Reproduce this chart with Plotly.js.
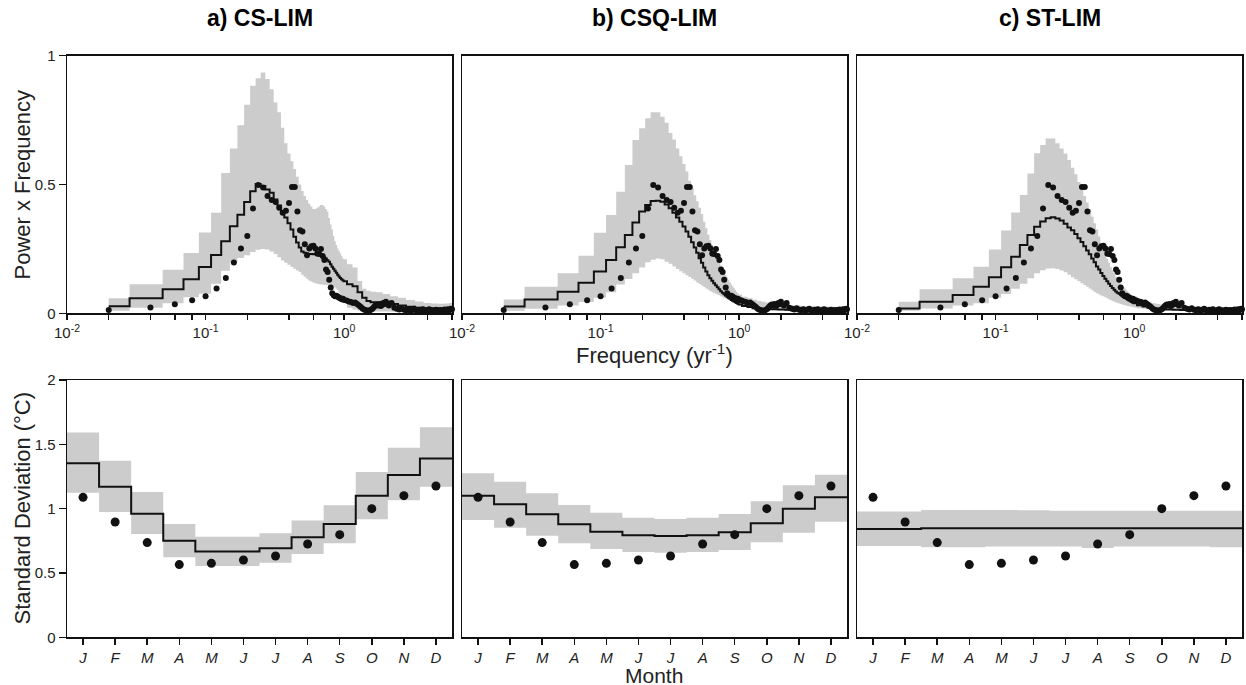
<!DOCTYPE html>
<html>
<head>
<meta charset="utf-8">
<script src="https://cdn.plot.ly/plotly-3.0.1.min.js"></script>
<style>html,body{margin:0;padding:0;background:#fff;}#chart{width:1246px;height:685px;}</style>
</head>
<body>
<div id="chart"></div>
<script>
// ---------- DATA ----------
const PANEL_TITLES = ['a) CS-LIM', 'b) CSQ-LIM', 'c) ST-LIM'];

// model frequency grid (yr^-1)
const FREQ = [0.02,0.04,0.06,0.08,0.10,0.12,0.14,0.16,0.18,0.20,
  0.22,0.24,0.26,0.28,0.30,0.32,0.34,0.36,0.38,0.40,
  0.42,0.44,0.46,0.48,0.50,0.52,0.54,0.56,0.58,0.60,
  0.62,0.64,0.66,0.68,0.70,0.72,0.74,0.76,0.78,0.80,
  0.82,0.84,0.86,0.88,0.90,0.92,0.94,0.96,0.98,1.00,
  1.1,1.2,1.3,1.4,1.5,1.6,1.8,2.0,2.3,2.6,3.0,3.5,4.0,4.5,5.0,5.5,6.0];

const A_MEAN = [0.027,0.058,0.093,0.132,0.180,0.226,0.280,0.338,0.383,0.432,
  0.474,0.502,0.494,0.481,0.468,0.442,0.418,0.394,0.372,0.350,
  0.325,0.297,0.275,0.255,0.240,0.235,0.232,0.230,0.230,0.229,
  0.230,0.231,0.230,0.226,0.222,0.218,0.213,0.206,0.200,0.190,
  0.181,0.173,0.165,0.157,0.150,0.143,0.137,0.132,0.128,0.124,
  0.113,0.105,0.082,0.060,0.048,0.043,0.042,0.045,0.036,0.030,0.025,0.022,0.020,0.019,0.018,0.018,0.018];
const A_UP = [0.058,0.113,0.169,0.234,0.314,0.390,0.545,0.640,0.730,0.810,
  0.883,0.912,0.935,0.910,0.870,0.818,0.780,0.720,0.660,0.620,
  0.590,0.560,0.530,0.500,0.475,0.455,0.440,0.425,0.415,0.405,
  0.405,0.410,0.415,0.420,0.420,0.415,0.405,0.395,0.370,0.345,
  0.325,0.300,0.280,0.265,0.252,0.242,0.232,0.222,0.214,0.210,
  0.190,0.178,0.125,0.095,0.088,0.084,0.082,0.075,0.066,0.060,0.052,0.046,0.040,0.038,0.037,0.038,0.040];
const A_LO = [0.010,0.022,0.039,0.062,0.076,0.115,0.165,0.198,0.215,0.225,
  0.238,0.247,0.250,0.248,0.240,0.230,0.218,0.205,0.196,0.188,
  0.180,0.173,0.166,0.160,0.150,0.142,0.134,0.127,0.123,0.120,
  0.117,0.115,0.113,0.112,0.111,0.111,0.111,0.110,0.110,0.110,
  0.108,0.104,0.100,0.095,0.090,0.080,0.068,0.058,0.048,0.042,
  0.022,0.015,0.011,0.009,0.008,0.007,0.007,0.007,0.006,0.006,0.006,0.006,0.006,0.006,0.006,0.006,0.006];

const B_MEAN = [0.026,0.054,0.084,0.119,0.162,0.207,0.256,0.304,0.352,0.395,
  0.420,0.436,0.437,0.433,0.422,0.408,0.390,0.372,0.355,0.337,
  0.318,0.297,0.276,0.255,0.235,0.214,0.196,0.178,0.162,0.148,
  0.136,0.126,0.117,0.109,0.101,0.093,0.086,0.080,0.074,0.069,
  0.064,0.060,0.056,0.052,0.049,0.046,0.043,0.040,0.037,0.034,
  0.028,0.024,0.020,0.018,0.017,0.016,0.016,0.015,0.014,0.014,0.013,0.013,0.012,0.012,0.012,0.012,0.012];
const B_UP = [0.054,0.103,0.155,0.223,0.313,0.382,0.472,0.576,0.673,0.718,
  0.757,0.780,0.780,0.763,0.740,0.700,0.675,0.640,0.610,0.580,
  0.550,0.515,0.485,0.458,0.435,0.410,0.385,0.355,0.330,0.305,
  0.285,0.265,0.248,0.232,0.215,0.200,0.185,0.172,0.160,0.150,
  0.140,0.130,0.120,0.112,0.104,0.097,0.090,0.084,0.078,0.073,
  0.064,0.058,0.053,0.048,0.045,0.042,0.038,0.035,0.032,0.030,0.028,0.027,0.026,0.025,0.025,0.024,0.024];
const B_LO = [0.010,0.018,0.030,0.044,0.060,0.082,0.112,0.133,0.155,0.178,
  0.198,0.208,0.213,0.210,0.200,0.192,0.182,0.172,0.163,0.155,
  0.148,0.141,0.134,0.127,0.120,0.114,0.108,0.102,0.096,0.091,
  0.087,0.083,0.079,0.076,0.073,0.070,0.066,0.063,0.060,0.057,
  0.054,0.052,0.049,0.046,0.044,0.042,0.040,0.038,0.036,0.034,
  0.028,0.023,0.020,0.017,0.015,0.013,0.012,0.011,0.010,0.009,0.009,0.008,0.008,0.008,0.008,0.008,0.008];

const C_MEAN = [0.019,0.045,0.071,0.103,0.140,0.179,0.220,0.265,0.304,0.336,
  0.356,0.369,0.373,0.368,0.360,0.348,0.333,0.322,0.308,0.291,
  0.277,0.260,0.244,0.229,0.213,0.198,0.182,0.170,0.156,0.145,
  0.134,0.124,0.115,0.106,0.098,0.091,0.085,0.080,0.076,0.072,
  0.067,0.063,0.060,0.056,0.053,0.050,0.047,0.044,0.041,0.039,
  0.031,0.026,0.022,0.019,0.017,0.016,0.015,0.014,0.013,0.013,0.013,0.013,0.013,0.013,0.013,0.013,0.013];
const C_UP = [0.045,0.093,0.136,0.181,0.248,0.321,0.391,0.459,0.543,0.621,
  0.653,0.679,0.679,0.660,0.640,0.620,0.595,0.565,0.540,0.510,
  0.480,0.455,0.430,0.405,0.375,0.350,0.325,0.298,0.272,0.250,
  0.230,0.212,0.195,0.180,0.167,0.155,0.143,0.132,0.124,0.116,
  0.109,0.102,0.096,0.090,0.085,0.080,0.076,0.072,0.068,0.065,
  0.056,0.048,0.043,0.039,0.036,0.033,0.030,0.029,0.027,0.026,0.026,0.025,0.025,0.024,0.024,0.024,0.024];
const C_LO = [0.010,0.019,0.030,0.039,0.060,0.075,0.095,0.115,0.136,0.155,
  0.167,0.174,0.175,0.172,0.166,0.159,0.150,0.140,0.132,0.124,
  0.117,0.110,0.103,0.096,0.089,0.083,0.078,0.073,0.069,0.066,
  0.062,0.058,0.055,0.051,0.048,0.045,0.042,0.040,0.038,0.036,
  0.034,0.032,0.031,0.029,0.028,0.027,0.026,0.025,0.024,0.023,
  0.020,0.018,0.016,0.015,0.014,0.013,0.012,0.012,0.011,0.011,0.011,0.011,0.011,0.011,0.011,0.011,0.011];

// observed spectrum (same in all panels)
const OBS_FREQ = [0.02,0.04,0.06,0.08,0.10,0.12,0.14,0.16,0.18,0.20,
  0.22,0.24,0.26,0.28,0.30,0.32,0.34,0.36,0.38,0.40,
  0.42,0.44,0.46,0.48,0.50,0.52,0.54,0.56,0.58,0.60,
  0.62,0.64,0.66,0.68,0.70,0.72,0.74,0.76,0.78,0.80,
  0.82,0.84,0.86,0.88,0.90,0.92,0.94,0.96,0.98,1.00,
  1.04,1.08,1.12,1.16,1.20,1.24,1.28,1.32,1.36,1.40,1.44,1.48,1.52,1.56,1.60,1.64,1.68,1.72,1.76,1.80,1.84,1.88,1.92,1.96,2.00,
  2.1,2.2,2.3,2.4,2.5,2.6,2.7,2.8,2.9,3.0,
  3.1,3.2,3.3,3.4,3.5,3.6,3.7,3.8,3.9,4.0,
  4.1,4.2,4.3,4.4,4.5,4.6,4.7,4.8,4.9,5.0,
  5.1,5.2,5.3,5.4,5.5,5.6,5.7,5.8,5.9,6.0];
const OBS_PWR = [0.013,0.023,0.035,0.051,0.066,0.096,0.137,0.197,0.252,0.300,
  0.407,0.498,0.488,0.455,0.440,0.432,0.410,0.390,0.398,0.428,
  0.490,0.490,0.395,0.322,0.318,0.268,0.225,0.252,0.260,0.262,
  0.252,0.232,0.230,0.250,0.222,0.207,0.170,0.160,0.130,0.100,
  0.078,0.070,0.066,0.068,0.064,0.060,0.058,0.055,0.056,0.052,
  0.050,0.046,0.044,0.040,0.042,0.036,0.030,0.024,0.018,0.014,0.012,0.010,0.011,0.014,0.018,0.024,0.030,0.034,0.030,0.036,0.028,0.032,0.040,0.036,0.045,
  0.030,0.040,0.022,0.018,0.015,0.020,0.014,0.012,0.016,0.011,
  0.013,0.018,0.012,0.010,0.014,0.012,0.016,0.011,0.009,0.013,
  0.016,0.010,0.012,0.008,0.011,0.014,0.009,0.012,0.010,0.013,
  0.008,0.011,0.015,0.010,0.012,0.016,0.011,0.014,0.018,0.016];

const FREQ_TICKS = [0.01, 0.1, 1];
const FREQ_TICK_TEXT = ['10<sup>-2</sup>', '10<sup>-1</sup>', '10<sup>0</sup>'];
const FREQ_MINOR_TICKS = [0.02,0.04,0.06,0.08,0.2,0.4,0.6,0.8,2,4,6];
const PWR_TICKS = [0, 0.5, 1];
const PWR_TICK_TEXT = ['0', '0.5', '1'];

// monthly standard deviation (°C)
const MONTH_NUM = [1,2,3,4,5,6,7,8,9,10,11,12];
const MONTHS = ['J','F','M','A','M','J','J','A','S','O','N','D'];
const OBS_SD = [1.088,0.896,0.736,0.565,0.575,0.601,0.632,0.725,0.798,1.000,1.101,1.176];
const A_SD_MEAN = [1.352,1.171,0.961,0.751,0.666,0.667,0.692,0.777,0.881,1.101,1.262,1.389];
const A_SD_UP   = [1.591,1.373,1.130,0.881,0.782,0.782,0.808,0.907,1.026,1.285,1.474,1.632];
const A_SD_LO   = [1.124,0.974,0.803,0.622,0.554,0.554,0.580,0.648,0.731,0.917,1.065,1.171];
const B_SD_MEAN = [1.101,1.034,0.956,0.878,0.821,0.793,0.788,0.793,0.816,0.886,1.000,1.088];
const B_SD_UP   = [1.275,1.210,1.119,1.028,0.969,0.930,0.920,0.930,0.959,1.057,1.181,1.264];
const B_SD_LO   = [0.912,0.852,0.790,0.731,0.687,0.663,0.658,0.663,0.679,0.738,0.813,0.899];
const C_SD_MEAN = [0.842,0.842,0.847,0.847,0.847,0.847,0.847,0.847,0.847,0.847,0.847,0.847];
const C_SD_UP   = [0.977,0.977,0.990,0.990,0.990,0.987,0.984,0.984,0.984,0.984,0.984,0.984];
const C_SD_LO   = [0.710,0.710,0.699,0.699,0.705,0.705,0.705,0.694,0.705,0.705,0.705,0.699];
const SD_TICKS = [0, 0.5, 1, 1.5, 2];
const SD_TICK_TEXT = ['0', '0.5', '1', '1.5', '2'];

// ---------- BUILD ----------
const FONT = 'Liberation Sans, Arial, Helvetica, sans-serif';
const GRAY = '#cccccc';
const INK = '#111111';

const panels = [
  {mean: A_MEAN, up: A_UP, lo: A_LO, sdMean: A_SD_MEAN, sdUp: A_SD_UP, sdLo: A_SD_LO},
  {mean: B_MEAN, up: B_UP, lo: B_LO, sdMean: B_SD_MEAN, sdUp: B_SD_UP, sdLo: B_SD_LO},
  {mean: C_MEAN, up: C_UP, lo: C_LO, sdMean: C_SD_MEAN, sdUp: C_SD_UP, sdLo: C_SD_LO}
];

// month-edge step positions derived from month numbers
const monthEdges = MONTH_NUM.map(m => m - 0.5).concat([MONTH_NUM[MONTH_NUM.length - 1] + 0.5]);
const ext = arr => arr.concat([arr[arr.length - 1]]);

const data = [];
panels.forEach((p, i) => {
  const xa = i === 0 ? 'x' : 'x' + (i + 1);
  const ya = i === 0 ? 'y' : 'y' + (i + 1);
  data.push({x: FREQ, y: p.lo, xaxis: xa, yaxis: ya, mode: 'lines', type: 'scatter',
    line: {width: 0, shape: 'hvh', color: GRAY}, hoverinfo: 'skip', showlegend: false});
  data.push({x: FREQ, y: p.up, xaxis: xa, yaxis: ya, mode: 'lines', type: 'scatter',
    line: {width: 0, shape: 'hvh', color: GRAY}, fill: 'tonexty', fillcolor: GRAY, hoverinfo: 'skip', showlegend: false});
  data.push({x: FREQ, y: p.mean, xaxis: xa, yaxis: ya, mode: 'lines', type: 'scatter',
    line: {width: 2, shape: 'hvh', color: INK}, showlegend: false});
  data.push({x: OBS_FREQ, y: OBS_PWR, xaxis: xa, yaxis: ya, mode: 'markers', type: 'scatter',
    marker: {size: 6, color: INK}, cliponaxis: false, showlegend: false});

  const xb = 'x' + (i + 4), yb = 'y' + (i + 4);
  data.push({x: monthEdges, y: ext(p.sdLo), xaxis: xb, yaxis: yb, mode: 'lines', type: 'scatter',
    line: {width: 0, shape: 'hv', color: GRAY}, hoverinfo: 'skip', showlegend: false});
  data.push({x: monthEdges, y: ext(p.sdUp), xaxis: xb, yaxis: yb, mode: 'lines', type: 'scatter',
    line: {width: 0, shape: 'hv', color: GRAY}, fill: 'tonexty', fillcolor: GRAY, hoverinfo: 'skip', showlegend: false});
  data.push({x: monthEdges, y: ext(p.sdMean), xaxis: xb, yaxis: yb, mode: 'lines', type: 'scatter',
    line: {width: 2, shape: 'hv', color: INK}, showlegend: false});
  data.push({x: MONTH_NUM, y: OBS_SD, xaxis: xb, yaxis: yb, mode: 'markers', type: 'scatter',
    marker: {size: 9, color: INK}, cliponaxis: false, showlegend: false});
});

const W = 1246, H = 685;
const XDOM = [[67 / W, 452 / W], [462 / W, 847 / W], [857 / W, 1242 / W]];
const YTOP = [(H - 313.3) / H, (H - 55.7) / H];
const YBOT = [(H - 637.3) / H, (H - 380) / H];

const tickFont = {family: FONT, size: 15, color: '#222'};
const baseAxis = {
  showline: true, mirror: true, linecolor: INK, linewidth: 1.5,
  showgrid: false, zeroline: false, ticks: 'outside', tickcolor: INK, tickwidth: 1.5,
  tickfont: tickFont, fixedrange: true
};

const layout = {
  width: W, height: H,
  margin: {l: 0, r: 0, t: 0, b: 0},
  paper_bgcolor: '#fff', plot_bgcolor: '#fff',
  font: {family: FONT, color: '#222'},
  showlegend: false,
  annotations: []
};

for (let i = 0; i < 3; i++) {
  const sx = i === 0 ? '' : String(i + 1);
  layout['xaxis' + sx] = Object.assign({}, baseAxis, {
    domain: XDOM[i], anchor: 'y' + sx, type: 'log', range: [-2, Math.log10(6)],
    tickmode: 'array', tickvals: FREQ_TICKS, ticktext: FREQ_TICK_TEXT, ticklen: 5,
    minor: {tickmode: 'array', tickvals: FREQ_MINOR_TICKS, ticks: 'outside', ticklen: 5,
            tickwidth: 1.5, tickcolor: INK, showgrid: false}
  });
  layout['yaxis' + sx] = Object.assign({}, baseAxis, {
    domain: YTOP, anchor: 'x' + sx, range: [0, 1],
    tickmode: 'array', tickvals: PWR_TICKS, ticktext: PWR_TICK_TEXT, ticklen: 7,
    showticklabels: i === 0, ticks: i === 0 ? 'outside' : ''
  });
  const bx = String(i + 4);
  layout['xaxis' + bx] = Object.assign({}, baseAxis, {
    domain: XDOM[i], anchor: 'y' + bx, range: [0.5, 12.5],
    tickmode: 'array', tickvals: MONTH_NUM, ticktext: MONTHS.map(m => '<i>' + m + '</i>'), ticklen: 6
  });
  layout['yaxis' + bx] = Object.assign({}, baseAxis, {
    domain: YBOT, anchor: 'x' + bx, range: [0, 2],
    tickmode: 'array', tickvals: SD_TICKS, ticktext: SD_TICK_TEXT, ticklen: 7,
    showticklabels: i === 0, ticks: i === 0 ? 'outside' : ''
  });
  layout.annotations.push({
    text: '<b>' + PANEL_TITLES[i] + '</b>', xref: 'paper', yref: 'paper',
    x: (XDOM[i][0] + XDOM[i][1]) / 2, y: 1 - 18 / H, xanchor: 'center', yanchor: 'middle',
    showarrow: false, font: {family: FONT, size: 23, color: '#000'}
  });
}

const axisTitleFont = {family: FONT, size: 22, color: '#222'};
layout.annotations.push(
  {text: 'Power x Frequency', xref: 'paper', yref: 'paper', x: 22 / W, y: 1 - 184.5 / H,
   textangle: -90, xanchor: 'center', yanchor: 'middle', showarrow: false, font: axisTitleFont},
  {text: 'Frequency (yr<sup>-1</sup>)', xref: 'paper', yref: 'paper', x: 654 / W, y: 1 - 354 / H,
   xanchor: 'center', yanchor: 'middle', showarrow: false, font: axisTitleFont},
  {text: 'Standard Deviation (°C)', xref: 'paper', yref: 'paper', x: 22 / W, y: 1 - 508.5 / H,
   textangle: -90, xanchor: 'center', yanchor: 'middle', showarrow: false, font: axisTitleFont},
  {text: 'Month', xref: 'paper', yref: 'paper', x: 654 / W, y: -3 / H, borderpad: 0,
   xanchor: 'center', yanchor: 'bottom', showarrow: false, font: {family: FONT, size: 21, color: '#222'}}
);

Plotly.newPlot('chart', data, layout, {displayModeBar: false, staticPlot: true});
</script>
</body>
</html>
